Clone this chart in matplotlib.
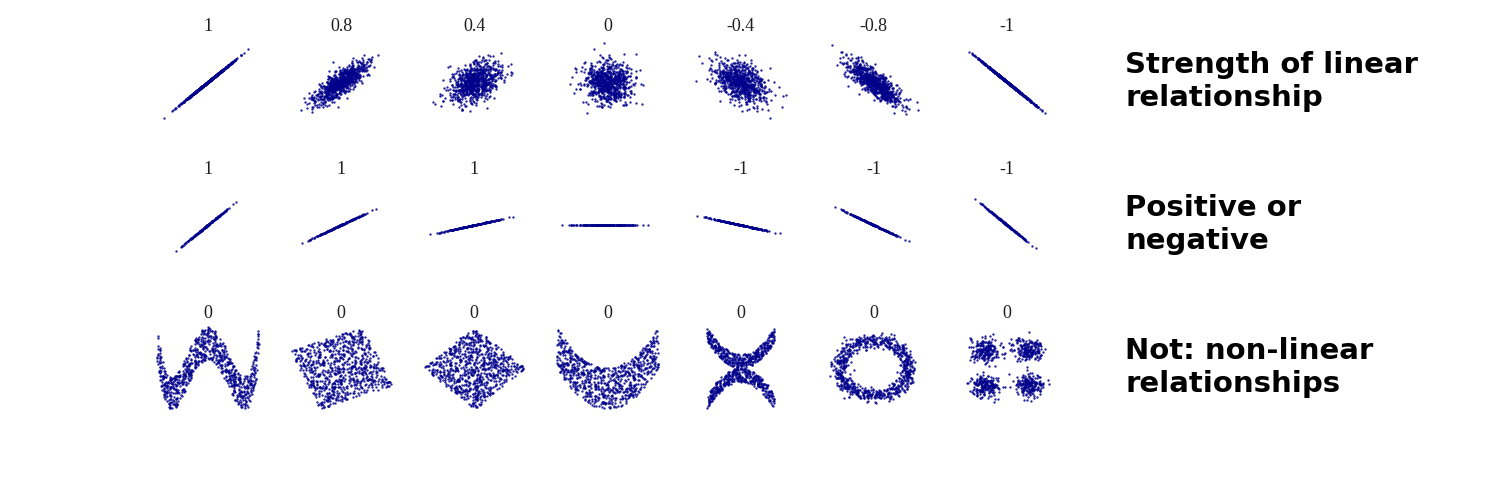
import numpy as np
import matplotlib
matplotlib.use("Agg")
import matplotlib.pyplot as plt

# ---------------- chart content ----------------
# Row 1: correlation of the bivariate-normal clouds (n = 800 each)
row1_corr = [1.0, 0.8, 0.4, 0.0, -0.4, -0.8, -1.0]
row1_titles = ["1", "0.8", "0.4", "0", "-0.4", "-0.8", "-1"]
# Row 2: rotation angle (in units of pi) of a perfectly correlated cloud (n = 200)
row2_angles = [0.0, 1 / 12, 1 / 6, 1 / 4, 1 / 3, 5 / 12, 1 / 2]
row2_titles = ["1", "1", "1", "", "-1", "-1", "-1"]
# Row 3: non-linear shapes (n = 800 each), all with correlation 0
row3_shapes = ["w", "square", "diamond", "parabola", "cross", "ring", "clusters"]
row3_titles = ["0", "0", "0", "0", "0", "0", "0"]
# Row captions on the right
row_captions = [["Strength of linear", "relationship"],
                ["Positive or", "negative"],
                ["Not: non-linear", "relationships"]]
n_row1, n_row2, n_row3 = 800, 200, 800

# NOTE: individual points cannot be read off the picture; the clouds are
# sampled (fixed seed) from the distributions implied by the values above.
rng = np.random.default_rng(7)


def rotation(t, x, y):
    c, s = np.cos(t), np.sin(t)
    return x * c + y * s, -x * s + y * c


def row1_cloud(r):
    cov = [[1.0, r], [r, 1.0]]
    xy = rng.multivariate_normal([0, 0], cov, size=n_row1, method="eigh")
    return xy[:, 0], xy[:, 1], (-4, 4), (-4, 4)


z_line = rng.standard_normal(n_row2)


def row2_cloud(a):
    x, y = rotation(a * np.pi, z_line, z_line)
    return x, y, (-4, 4), (-4, 4)


u = rng.uniform(-1, 1, n_row3)
v = rng.uniform(-1, 1, n_row3)


def row3_cloud(kind):
    if kind == "w":
        y = 4 * (u ** 2 - 0.5) ** 2 + rng.uniform(-1, 1, n_row3) / 3
        return u, y, (-1, 1), (-1 / 3, 4 / 3)
    if kind == "square":
        x, y = rotation(-np.pi / 8, u, v)
        lim = np.sqrt(2 + np.sqrt(2)) / np.sqrt(2)
        return x, y, (-lim, lim), (-lim, lim)
    if kind == "diamond":
        x, y = rotation(-np.pi / 4, u, v)
        lim = np.sqrt(2)
        return x, y, (-lim, lim), (-lim, lim)
    if kind == "parabola":
        y = 2 * u ** 2 + rng.uniform(-1, 1, n_row3)
        return u, y, (-1, 1), (-1, 3)
    if kind == "cross":
        sign = rng.choice([-1, 1], n_row3)
        y = (u ** 2 + rng.uniform(0, 0.5, n_row3)) * sign
        return u, y, (-1.5, 1.5), (-1.5, 1.5)
    if kind == "ring":
        y = np.cos(u * np.pi) + rng.normal(0, 1 / 8, n_row3)
        x = np.sin(u * np.pi) + rng.normal(0, 1 / 8, n_row3)
        return x, y, (-1.5, 1.5), (-1.5, 1.5)
    # four clusters
    centers = [(3, 3), (-3, 3), (-3, -3), (3, -3)]
    pts = [rng.standard_normal((n_row3 // 4, 2)) + np.array(c) for c in centers]
    xy = np.vstack(pts)
    return xy[:, 0], xy[:, 1], (-7, 7), (-7, 7)


rows = [
    ([row1_cloud(r) for r in row1_corr], row1_titles),
    ([row2_cloud(a) for a in row2_angles], row2_titles),
    ([row3_cloud(k) for k in row3_shapes], row3_titles),
]

# ---------------- layout ----------------
W, H = 1500, 495
fig = plt.figure(figsize=(W / 100, H / 100), dpi=100)
fig.patch.set_facecolor("white")

ax_w, ax_h = 110, 89          # pixels
col0, col_step = 207.8, 133.2  # centre of first column, pitch
row0, row_step = 82.0, 143.0   # centre of first row, pitch


def expand(lim):
    a, b = lim
    d = 0.04 * (b - a)
    return a - d, b + d


for r, (clouds, titles) in enumerate(rows):
    cy = row0 + r * row_step
    for c, ((x, y, xl, yl), title) in enumerate(zip(clouds, titles)):
        cx = col0 + c * col_step
        ax = fig.add_axes([(cx - ax_w / 2) / W, 1 - (cy + ax_h / 2) / H,
                           ax_w / W, ax_h / H])
        ax.scatter(x, y, s=2.9, c="#00008B", linewidths=0, alpha=0.85)
        ax.set_xlim(expand(xl))
        ax.set_ylim(expand(yl))
        ax.axis("off")
        if title:
            ax.text(0.5, 1 + 10.5 / ax_h, title, transform=ax.transAxes,
                    ha="center", va="center", fontsize=13,
                    family="Liberation Serif", color="#1e1e1e")
    # caption to the right
    base = 73 + r * row_step
    for k, line in enumerate(row_captions[r]):
        fig.text(1125 / W, 1 - (base + 33 * k) / H, line, ha="left",
                 va="baseline", fontsize=21, fontweight="bold",
                 family="DejaVu Sans", color="black")

fig.savefig("out.png", dpi=100, facecolor="white")
